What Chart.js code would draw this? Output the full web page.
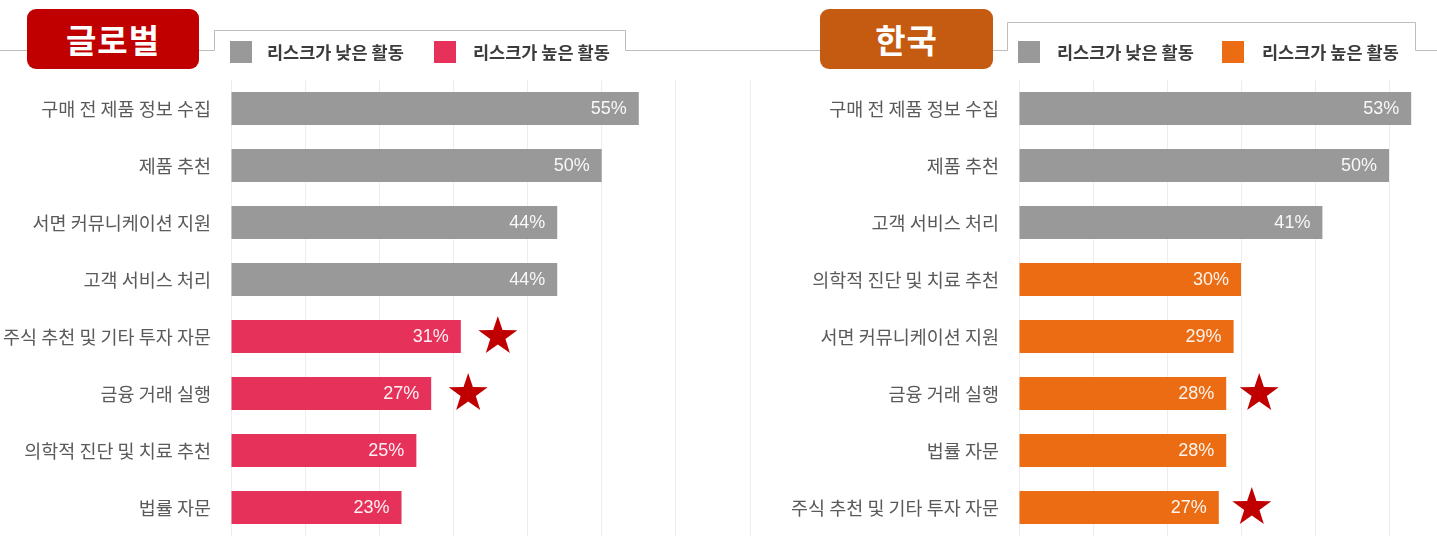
<!DOCTYPE html>
<html><head><meta charset="utf-8">
<script src="https://cdn.jsdelivr.net/npm/chart.js@4.4.1/dist/chart.umd.min.js"></script>
<style>
html,body{margin:0;padding:0;background:#fff;width:1437px;height:543px;overflow:hidden;}
#wrap{position:relative;width:1437px;height:543px;overflow:hidden;font-family:"Noto Sans CJK KR","Noto Sans",sans-serif;}
canvas{position:absolute;top:0;}
#c1{left:0;}
#c2{left:740px;}
svg{position:absolute;left:0;top:0;}
.title{position:absolute;top:9px;height:60px;border-radius:9px;color:#fff;font-weight:700;font-size:33px;display:flex;align-items:center;justify-content:center;letter-spacing:1px;}
.sw{position:absolute;top:41px;width:22px;height:22px;}
.lt{position:absolute;top:40px;height:24px;line-height:24px;font-size:17.5px;font-weight:700;color:#3c3c3c;white-space:nowrap;}
</style>
</head><body>
<div id="wrap">
<svg width="1437" height="543">
  <polyline points="0,50.5 30,50.5" fill="none" stroke="#bdbdbd" stroke-width="1"/>
  <polyline points="196,50.5 214.5,50.5 214.5,30.5 625.5,30.5 625.5,50.5 824,50.5" fill="none" stroke="#bdbdbd" stroke-width="1"/>
  <polyline points="990,50.5 1007.5,50.5 1007.5,22.5 1415.5,22.5 1415.5,50.5 1437,50.5" fill="none" stroke="#bdbdbd" stroke-width="1"/>
</svg>
<canvas id="c1" width="770" height="543" style="width:770px;height:543px"></canvas>
<canvas id="c2" width="760" height="543" style="width:760px;height:543px"></canvas>
<div class="title" style="left:27px;width:172px;background:#c00000;">글로벌</div>
<div class="title" style="left:820px;width:173px;background:#c55a11;">한국</div>
<div class="sw" style="left:230px;background:#999999"></div>
<div class="lt" style="left:267px">리스크가 낮은 활동</div>
<div class="sw" style="left:434px;background:#e6325a"></div>
<div class="lt" style="left:473px">리스크가 높은 활동</div>
<div class="sw" style="left:1018px;background:#999999"></div>
<div class="lt" style="left:1057px">리스크가 낮은 활동</div>
<div class="sw" style="left:1222px;background:#ec6c14"></div>
<div class="lt" style="left:1262px">리스크가 높은 활동</div>
</div>
<script>
// ---- data ----
const categoriesGlobal = ["구매 전 제품 정보 수집","제품 추천","서면 커뮤니케이션 지원","고객 서비스 처리","주식 추천 및 기타 투자 자문","금융 거래 실행","의학적 진단 및 치료 추천","법률 자문"];
const valuesGlobal = [55,50,44,44,31,27,25,23];
const highRiskGlobal = [false,false,false,false,true,true,true,true];
const starredGlobal = [false,false,false,false,true,true,false,false];

const categoriesKorea = ["구매 전 제품 정보 수집","제품 추천","고객 서비스 처리","의학적 진단 및 치료 추천","서면 커뮤니케이션 지원","금융 거래 실행","법률 자문","주식 추천 및 기타 투자 자문"];
const valuesKorea = [53,50,41,30,29,28,28,27];
const highRiskKorea = [false,false,false,true,true,true,true,true];
const starredKorea = [false,false,false,false,false,true,false,true];

const xTickStep = 10;
const xMaxGlobal = 70;
const xMaxKorea = 60;

const LOW_COLOR = '#999999';

function drawStar(ctx, cx, cy, R, r){
  ctx.beginPath();
  for(let k=0;k<10;k++){
    const rad = k%2===0 ? R : r;
    const a = -Math.PI/2 + k*Math.PI/5;
    const x = cx + rad*Math.cos(a), y = cy + rad*Math.sin(a);
    if(k===0) ctx.moveTo(x,y); else ctx.lineTo(x,y);
  }
  ctx.closePath();
  ctx.fill();
}

function makeChart(id, cats, vals, high, stars, highColor, yWidth, xMax, padRight, starOffset){
  const overlay = {
    id:'overlay'+id,
    afterDatasetsDraw(chart){
      const ctx = chart.ctx;
      const meta = chart.getDatasetMeta(0);
      ctx.save();
      ctx.font = '18px "Liberation Sans", Arial, sans-serif';
      ctx.textAlign = 'right';
      ctx.textBaseline = 'middle';
      ctx.fillStyle = 'rgba(255,255,255,0.93)';
      meta.data.forEach((bar,i)=>{
        ctx.fillText(vals[i] + '%', bar.x - 12, bar.y + 1);
      });
      ctx.fillStyle = '#c00000';
      meta.data.forEach((bar,i)=>{
        if(stars[i]) drawStar(ctx, bar.x + starOffset, bar.y, 20.5, 8);
      });
      ctx.restore();
    }
  };
  return new Chart(document.getElementById(id), {
    type:'bar',
    data:{labels:cats, datasets:[{data:vals, backgroundColor:high.map(h=>h?highColor:LOW_COLOR), borderWidth:0, barPercentage:0.58, categoryPercentage:1}]},
    options:{
      indexAxis:'y', responsive:false, animation:false, devicePixelRatio:1,
      layout:{padding:{top:80,bottom:7,left:0,right:padRight}},
      plugins:{legend:{display:false}, tooltip:{enabled:false}},
      scales:{
        x:{min:0, max:xMax, ticks:{display:false, stepSize:xTickStep}, grid:{color:'#ededed', drawTicks:false, lineWidth:1}, border:{display:false},
           afterFit(s){ s.height = 0; s.paddingLeft = 0; s.paddingRight = 0; s.paddingTop = 0; s.paddingBottom = 0; }},
        y:{ticks:{color:'#5a5a5a', font:{size:18.5, family:'"Noto Sans CJK KR", "Noto Sans", sans-serif'}, padding:20, autoSkip:false},
           grid:{display:false, drawTicks:false}, border:{display:false},
           afterFit(s){ s.width = yWidth; s.paddingTop = 0; s.paddingBottom = 0; s.paddingLeft = 0; s.paddingRight = 0; }}
      }
    },
    plugins:[overlay]
  });
}

makeChart('c1', categoriesGlobal, valuesGlobal, highRiskGlobal, starredGlobal, '#e6325a', 231, xMaxGlobal, 20, 37);
makeChart('c2', categoriesKorea, valuesKorea, highRiskKorea, starredKorea, '#ec6c14', 279, xMaxKorea, 37, 33);
</script>
</body></html>
